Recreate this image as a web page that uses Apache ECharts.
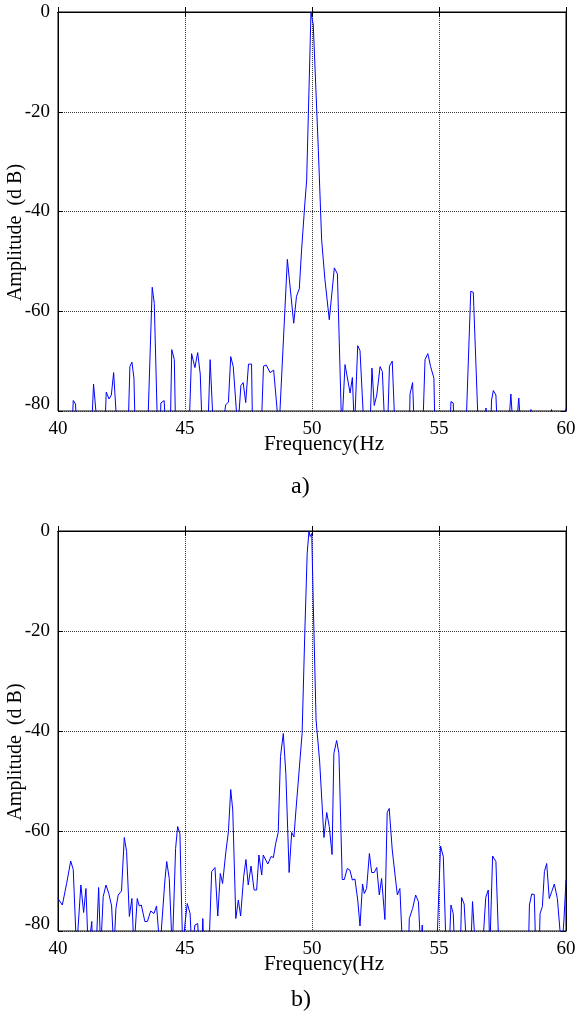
<!DOCTYPE html>
<html>
<head>
<meta charset="utf-8">
<script src="https://cdn.jsdelivr.net/npm/echarts@6.0.0/dist/echarts.min.js"></script>
<style>
  html, body { margin: 0; padding: 0; background: #fff; }
  #chart { width: 580px; height: 1016px; }
</style>
</head>
<body>
<div id="chart"></div>
<script>
// spectrum a) - frequency (Hz) and amplitude (dB); -84 means below the -80 floor
var freqA = [40.0, 40.55, 40.60, 40.69, 40.74, 41.32, 41.40, 41.56, 41.84, 41.90, 42.01, 42.10, 42.19, 42.33,
  42.76, 42.83, 42.91, 42.99, 43.04, 43.53, 43.71, 43.79, 43.92, 44.02, 44.05, 44.18, 44.24, 44.42, 44.48,
  44.58, 44.63, 45.16, 45.26, 45.39, 45.50, 45.60, 45.68, 45.90, 45.99, 46.12, 46.47, 46.60, 46.71, 46.80,
  46.90, 47.08, 47.20, 47.29, 47.39, 47.50, 47.62, 47.66, 48.00, 48.09, 48.20, 48.35, 48.49, 48.70, 49.03,
  49.28, 49.39, 49.50, 49.59, 49.72, 49.79, 49.96, 50.05, 50.25, 50.38, 50.51, 50.68, 50.88, 51.00, 51.17,
  51.30, 51.37, 51.50, 51.59, 51.67, 51.80, 51.89, 52.05, 52.28, 52.36, 52.45, 52.55, 52.68, 52.77, 52.87,
  52.97, 53.05, 53.16, 53.27, 53.83, 53.86, 53.96, 54.03, 54.36, 54.45, 54.56, 54.67, 54.80, 54.84, 55.43,
  55.47, 55.56, 55.60, 56.06, 56.25, 56.35, 56.55, 56.82, 56.85, 56.88, 57.03, 57.07, 57.14, 57.24, 57.30,
  57.73, 57.83, 57.92, 58.04, 58.14, 58.23, 58.58, 58.62, 58.66, 59.38, 59.43, 59.48, 59.96, 60.0];
var ampA = [-84, -84, -77.9, -78.6, -84, -84, -74.6, -84, -84, -76.2, -77.6, -76.8, -72.3, -84,
  -84, -71.1, -70.2, -73.4, -84, -84, -55.2, -58.4, -84, -84, -78.4, -77.9, -84, -84, -67.7,
  -69.7, -84, -84, -68.5, -71.3, -68.3, -72.6, -84, -84, -69.7, -84, -84, -78.8, -78.2, -69.1,
  -71.1, -84, -74.9, -74.3, -78.3, -70.6, -70.6, -84, -84, -71.0, -70.8, -72.3, -71.8, -84, -49.6,
  -62.4, -57.0, -55.5, -47.7, -38.3, -33.7, -0.1, -2.6, -27.7, -45.7, -53.7, -61.7, -51.3, -52.5, -84,
  -70.7, -70.7, -76.4, -73.3, -84, -66.9, -67.9, -84, -84, -71.4, -78.9, -76.8, -71.1, -72.1, -84,
  -84, -71.0, -70.0, -84, -84, -76.6, -74.3, -84, -84, -69.7, -68.5, -71.1, -73.4, -84, -84,
  -78.1, -78.4, -84, -84, -56.0, -56.2, -84, -84, -79.4, -84, -84, -77.8, -75.9, -76.8, -84,
  -84, -76.6, -84, -84, -77.4, -84, -84, -79.7, -84, -84, -79.7, -84, -84, -79.5];

// spectrum b)
var freqB = [40.0, 40.07, 40.17, 40.34, 40.50, 40.60, 40.73, 40.90, 41.01, 41.10, 41.19, 41.33, 41.36, 41.50,
  41.60, 41.68, 41.78, 41.89, 42.00, 42.11, 42.20, 42.28, 42.37, 42.50, 42.61, 42.70, 42.81, 42.91, 42.99,
  43.12, 43.20, 43.28, 43.42, 43.52, 43.65, 43.78, 43.88, 44.02, 44.08, 44.21, 44.28, 44.38, 44.50, 44.63,
  44.71, 44.80, 44.91, 45.00, 45.09, 45.20, 45.27, 45.39, 45.50, 45.56, 45.66, 45.70, 45.75, 45.94, 46.05,
  46.18, 46.29, 46.39, 46.48, 46.61, 46.71, 46.80, 46.88, 47.00, 47.10, 47.19, 47.31, 47.40, 47.49, 47.60,
  47.72, 47.82, 47.91, 48.02, 48.08, 48.26, 48.39, 48.48, 48.57, 48.67, 48.76, 48.87, 48.97, 49.10, 49.20,
  49.29, 49.35, 49.61, 49.72, 49.81, 49.88, 49.93, 49.99, 50.05, 50.16, 50.30, 50.47, 50.58, 50.68, 50.79,
  50.86, 50.97, 51.06, 51.19, 51.27, 51.39, 51.49, 51.59, 51.69, 51.80, 51.89, 51.99, 52.06, 52.15, 52.26,
  52.35, 52.45, 52.55, 52.65, 52.74, 52.87, 52.96, 53.04, 53.16, 53.27, 53.36, 53.46, 53.57, 53.80, 53.83,
  53.96, 54.08, 54.19, 54.28, 54.34, 54.38, 54.91, 55.06, 55.17, 55.28, 55.40, 55.47, 55.56, 55.62, 55.84,
  55.89, 55.99, 56.09, 56.25, 56.32, 56.44, 56.71, 56.84, 56.94, 57.00, 57.11, 57.24, 57.36, 58.52, 58.56,
  58.65, 58.75, 58.81, 58.94, 58.98, 59.07, 59.15, 59.24, 59.34, 59.44, 59.54, 59.66, 59.83, 59.92, 60.0];
var ampB = [-73.5, -73.8, -74.8, -70.5, -66.0, -67.7, -84, -70.8, -76.3, -71.5, -84, -78.1, -84, -84,
  -71.3, -84, -73.1, -70.8, -72.5, -75.0, -84, -75.5, -72.8, -72.0, -61.3, -64.1, -77.1, -73.5, -84,
  -73.5, -75.0, -74.8, -78.1, -78.1, -76.0, -76.5, -75.0, -84, -79.0, -69.8, -66.1, -69.5, -84, -63.5,
  -59.1, -60.5, -84, -78.5, -74.5, -76.5, -84, -78.8, -78.5, -84, -84, -77.5, -84, -84, -68.1,
  -67.3, -77.0, -68.5, -70.5, -64.1, -60.1, -51.7, -55.8, -77.5, -73.8, -77.0, -69.1, -65.7, -70.8, -67.0,
  -71.8, -71.8, -64.8, -68.8, -64.8, -66.6, -65.1, -65.3, -62.5, -60.3, -45.1, -40.5, -48.5, -68.3, -60.3,
  -61.2, -57.0, -40.5, -19.8, -4.5, -0.1, -1.1, -0.5, -14.5, -37.8, -46.0, -61.3, -56.3, -59.1, -64.7,
  -44.5, -41.9, -44.5, -69.7, -69.7, -67.5, -67.8, -69.8, -69.6, -73.8, -79.0, -70.6, -72.5, -71.5, -64.5,
  -68.3, -68.3, -67.3, -72.8, -69.5, -77.7, -56.3, -55.5, -63.8, -68.8, -72.8, -71.5, -84, -84, -77.5,
  -75.5, -72.8, -74.1, -84, -78.8, -84, -84, -63.0, -65.1, -84, -84, -74.8, -76.5, -84, -84,
  -73.3, -74.6, -84, -84, -74.1, -84, -84, -73.3, -71.8, -84, -65.0, -66.1, -84, -84, -74.8,
  -72.6, -72.7, -84, -84, -76.5, -75.1, -68.1, -66.5, -73.5, -72.1, -70.6, -73.5, -84, -77.8, -69.8];

var xTicks = [40, 45, 50, 55, 60];
var yTicks = [-80, -60, -40, -20, 0];

var serif = 'Liberation Serif';

function pairs(xs, ys) {
  var out = [];
  for (var i = 0; i < xs.length; i++) {
    out.push([xs[i], ys[i]]);
  }
  return out;
}

function mainX(idx) {
  return {
    type: 'value', gridIndex: idx, min: xTicks[0], max: xTicks[xTicks.length - 1], interval: 5,
    name: 'Frequency(Hz', nameLocation: 'middle', nameGap: 23, nameMoveOverlap: false,
    nameTextStyle: { color: '#000', fontSize: 21, fontFamily: serif, padding: [0, 0, 0, 24] },
    axisLine: { show: true, lineStyle: { color: '#000', width: 1 } },
    axisTick: { show: true, inside: true, length: 5, lineStyle: { color: '#000' } },
    axisLabel: { color: '#000', fontSize: 19, fontFamily: serif, margin: 9 },
    splitLine: { show: true, lineStyle: { type: 'dotted', color: '#333', width: 1 } }
  };
}
function mainY(idx) {
  return {
    type: 'value', gridIndex: idx, min: yTicks[0], max: yTicks[yTicks.length - 1], interval: 20,
    name: 'Amplitude  (d B)', nameLocation: 'middle', nameGap: 32, nameRotate: 90, nameMoveOverlap: false,
    nameTextStyle: { color: '#000', fontSize: 20, fontFamily: serif, padding: [0, 42, 0, 0] },
    axisLine: { show: true, lineStyle: { color: '#000', width: 1 } },
    axisTick: { show: true, inside: true, length: 5, lineStyle: { color: '#000' } },
    axisLabel: {
      color: '#000', fontSize: 19, fontFamily: serif, margin: 8,
      formatter: function (v) { return v === -80 ? '{lo|-80}' : String(v); },
      rich: { lo: { color: '#000', fontSize: 19, fontFamily: serif, padding: [0, 0, 14, 0] } }
    },
    splitLine: { show: true, lineStyle: { type: 'dotted', color: '#333', width: 1 } }
  };
}
// the mirror axes on top / right, ticks only
function boxX(idx) {
  return {
    type: 'value', gridIndex: idx, position: 'top', min: 40, max: 60, interval: 5,
    axisLine: { show: true, lineStyle: { color: '#000' } },
    axisTick: { show: true, inside: true, length: 5, lineStyle: { color: '#000' } },
    axisLabel: { show: false }, splitLine: { show: false }
  };
}
function boxY(idx) {
  return {
    type: 'value', gridIndex: idx, position: 'right', min: -80, max: 0, interval: 20,
    axisLine: { show: true, lineStyle: { color: '#000' } },
    axisTick: { show: true, inside: true, length: 5, lineStyle: { color: '#000' } },
    axisLabel: { show: false }, splitLine: { show: false }
  };
}

var chart = echarts.init(document.getElementById('chart'));
chart.setOption({
  backgroundColor: '#fff',
  animation: false,
  grid: [
    { left: 58, top: 12, width: 508, height: 399, show: true, borderColor: '#000', borderWidth: 1,
      containLabel: false, outerBoundsMode: 'none' },
    { left: 58, top: 531, width: 508, height: 400, show: true, borderColor: '#000', borderWidth: 1,
      containLabel: false, outerBoundsMode: 'none' }
  ],
  xAxis: [mainX(0), mainX(1), boxX(0), boxX(1)],
  yAxis: [mainY(0), mainY(1), boxY(0), boxY(1)],
  series: [
    {
      type: 'line', xAxisIndex: 0, yAxisIndex: 0, data: pairs(freqA, ampA),
      showSymbol: false, clip: true, lineStyle: { color: '#0000ff', width: 1 }
    },
    {
      type: 'line', xAxisIndex: 1, yAxisIndex: 1, data: pairs(freqB, ampB),
      showSymbol: false, clip: true, lineStyle: { color: '#0000ff', width: 1 }
    }
  ],
  graphic: [
    { type: 'text', left: 291, top: 475, style: { text: 'a)', fill: '#000', font: '24px "Liberation Serif"' } },
    { type: 'text', left: 291, top: 988, style: { text: 'b)', fill: '#000', font: '24px "Liberation Serif"' } }
  ]
});
</script>
</body>
</html>
